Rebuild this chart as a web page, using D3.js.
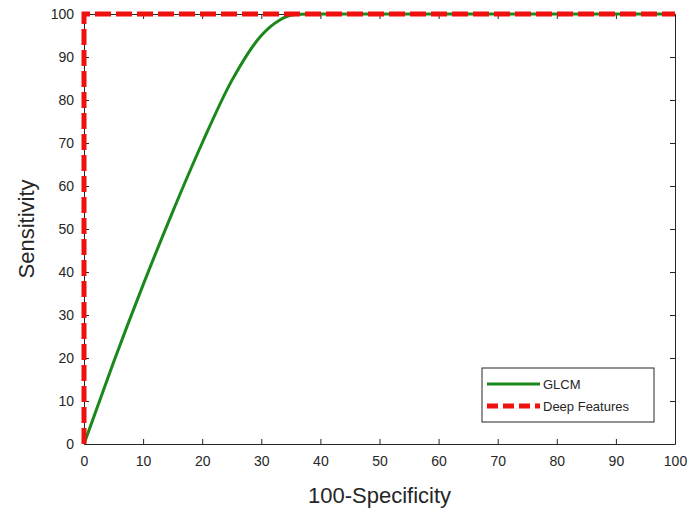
<!DOCTYPE html>
<html>
<head>
<meta charset="utf-8">
<script src="https://d3js.org/d3.v7.min.js"></script>
<style>
  body { margin: 0; background: #fff; }
  text { font-family: "Liberation Sans", Arial, sans-serif; fill: #262626; }
</style>
</head>
<body>
<svg id="chart" width="689" height="514"></svg>
<script>
// data
var glcmX = [0, 5, 10, 15, 20, 25, 30, 33, 35.5, 38, 100];
var glcmY = [0, 19, 37, 54, 70, 84.5, 95, 98.5, 99.8, 100, 100];
var deepX = [0, 0, 100];
var deepY = [0, 100, 100];
var tickVals = [0, 10, 20, 30, 40, 50, 60, 70, 80, 90, 100];
var seriesNames = ["GLCM", "Deep Features"];

var margin = { top: 14, right: 14, bottom: 70, left: 84 },
    width = 689 - margin.left - margin.right,
    height = 514 - margin.top - margin.bottom;

var svg = d3.select("#chart");
var g = svg.append("g").attr("transform", "translate(" + margin.left + "," + margin.top + ")");

var x = d3.scaleLinear().domain([0, 100]).range([0, width]);
var y = d3.scaleLinear().domain([0, 100]).range([height, 0]);

// axes with inward ticks, box on
function styleAxis(sel) {
    sel.select(".domain").attr("stroke", "#262626");
    sel.selectAll(".tick line").attr("stroke", "#262626");
    sel.selectAll(".tick text").style("font-size", "14px").attr("fill", "#262626");
}

g.append("g")
    .attr("transform", "translate(0," + height + ")")
    .call(d3.axisBottom(x).tickValues(tickVals).tickSizeInner(-5).tickSizeOuter(0).tickPadding(12))
    .call(styleAxis);
g.append("g")
    .call(d3.axisLeft(y).tickValues(tickVals).tickSizeInner(-5).tickSizeOuter(0).tickPadding(10))
    .call(styleAxis);
g.append("g")
    .call(d3.axisTop(x).tickValues(tickVals).tickSizeInner(-5).tickSizeOuter(0).tickFormat(""))
    .call(styleAxis);
g.append("g")
    .attr("transform", "translate(" + width + ",0)")
    .call(d3.axisRight(y).tickValues(tickVals).tickSizeInner(-5).tickSizeOuter(0).tickFormat(""))
    .call(styleAxis);

var line = d3.line()
    .x(function (d) { return x(d[0]); })
    .y(function (d) { return y(d[1]); });

var glcm = glcmX.map(function (v, i) { return [v, glcmY[i]]; });
var deep = deepX.map(function (v, i) { return [v, deepY[i]]; });

g.append("path")
    .datum(glcm)
    .attr("fill", "none")
    .attr("stroke", "#1a881a")
    .attr("stroke-width", 3)
    .attr("d", line.curve(d3.curveMonotoneX));

g.append("path")
    .datum(deep)
    .attr("fill", "none")
    .attr("stroke", "#f01010")
    .attr("stroke-width", 5)
    .attr("stroke-dasharray", "16,5")
    .attr("d", line.curve(d3.curveLinear));

// axis titles
svg.append("text")
    .attr("x", margin.left + width / 2)
    .attr("y", 503)
    .attr("text-anchor", "middle")
    .style("font-size", "22px")
    .text("100-Specificity");

svg.append("text")
    .attr("transform", "translate(34," + (margin.top + height / 2) + ") rotate(-90)")
    .attr("text-anchor", "middle")
    .style("font-size", "22px")
    .text("Sensitivity");

// legend
var legend = svg.append("g").attr("transform", "translate(482,368)");
legend.append("rect")
    .attr("width", 172).attr("height", 54)
    .attr("fill", "#fff").attr("stroke", "#262626").attr("stroke-width", 1);

var legStyles = [
    { color: "#1a881a", w: 3, dash: null },
    { color: "#f01010", w: 5, dash: "11,5" }
];
seriesNames.forEach(function (name, i) {
    var yy = 16 + i * 22;
    legend.append("line")
        .attr("x1", 5).attr("x2", 58).attr("y1", yy).attr("y2", yy)
        .attr("stroke", legStyles[i].color)
        .attr("stroke-width", legStyles[i].w)
        .attr("stroke-dasharray", legStyles[i].dash);
    legend.append("text")
        .attr("x", 61).attr("y", yy + 5)
        .style("font-size", "13px")
        .text(name);
});
</script>
</body>
</html>
